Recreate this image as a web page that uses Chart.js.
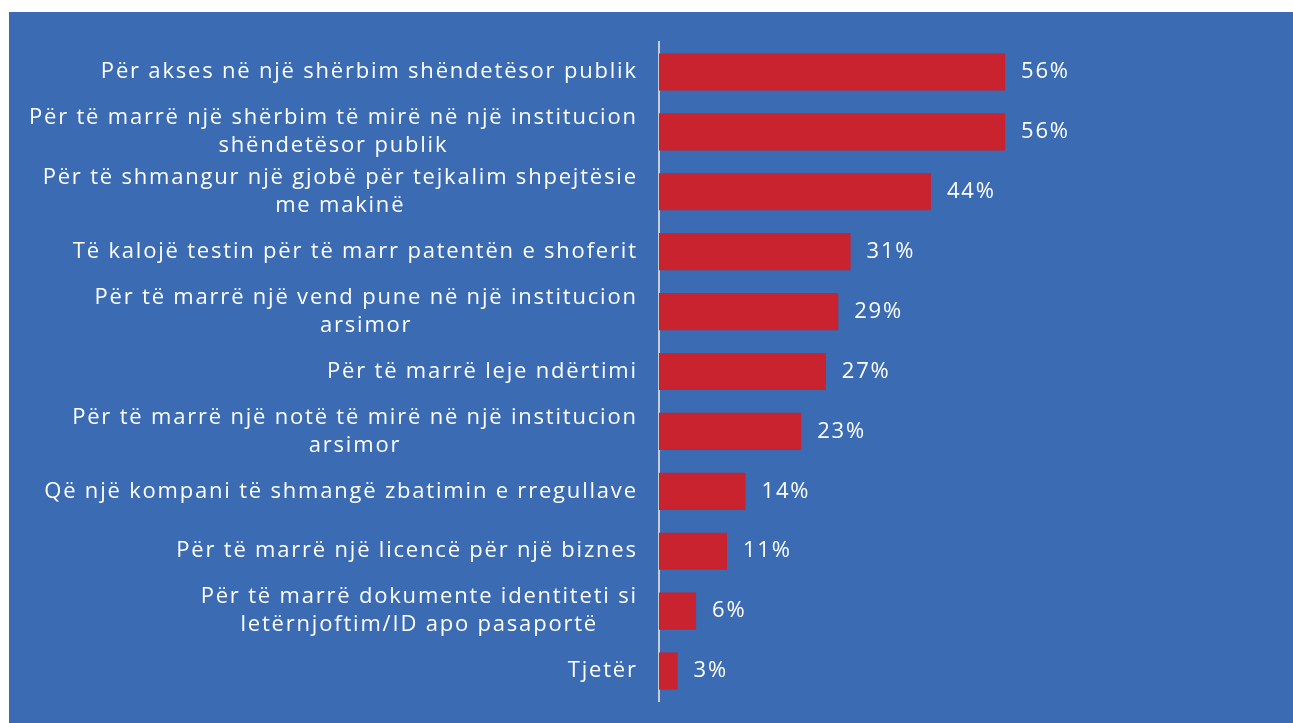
<!DOCTYPE html>
<html>
<head>
<meta charset="utf-8">
<script src="https://cdn.jsdelivr.net/npm/chart.js@4"></script>
<style>
    html, body { margin: 0; padding: 0; background: #ffffff; }
    #wrap { position: absolute; left: 9px; top: 12px; width: 1284px; height: 711px; background: #3a6bb3; }
    canvas { display: block; }
</style>
</head>
<body>
<div id="wrap"><canvas id="bribeChart" width="1284" height="711"></canvas></div>
<script>
    // kategoritë (rreshtat e grafikut)
    const categories = [
        'Për akses në një shërbim shëndetësor publik',
        ['Për të marrë një shërbim të mirë në një institucion', 'shëndetësor publik'],
        ['Për të shmangur një gjobë për tejkalim shpejtësie', 'me makinë'],
        'Të kalojë testin për të marr patentën e shoferit',
        ['Për të marrë një vend pune në një institucion', 'arsimor'],
        'Për të marrë leje ndërtimi',
        ['Për të marrë një notë të mirë në një institucion', 'arsimor'],
        'Që një kompani të shmangë zbatimin e rregullave',
        'Për të marrë një licencë për një biznes',
        ['Për të marrë dokumente identiteti si', 'letërnjoftim/ID apo pasaportë'],
        'Tjetër'
    ];
    const values = [56, 56, 44, 31, 29, 27, 23, 14, 11, 6, 3];

    const labelFont = '400 22px "Open Sans", sans-serif';
    const spacing = 1.8;

    // vizaton etiketat e kategorive (rreshtat e dytë të qendërzuar nën të parin)
    const categoryLabels = {
        id: 'categoryLabels',
        afterDraw(chart) {
            const ctx = chart.ctx;
            const yScale = chart.scales.y;
            const right = yScale.right - 23 + spacing;
            const lineH = 28;
            ctx.save();
            ctx.font = labelFont;
            ctx.letterSpacing = spacing + 'px';
            ctx.fillStyle = '#ffffff';
            ctx.textBaseline = 'middle';
            categories.forEach((lab, i) => {
                const y = yScale.getPixelForValue(i);
                const lines = Array.isArray(lab) ? lab : [lab];
                const widths = lines.map(l => ctx.measureText(l).width);
                const maxW = Math.max(...widths);
                const center = right - maxW / 2;
                const top = y - (lines.length - 1) * lineH / 2;
                lines.forEach((l, j) => {
                    ctx.textAlign = 'center';
                    ctx.fillText(l, center, top + j * lineH);
                });
            });
            ctx.restore();
        }
    };

    // vlerat në përqindje pranë shiritave
    const valueLabels = {
        id: 'valueLabels',
        afterDatasetsDraw(chart) {
            const ctx = chart.ctx;
            const meta = chart.getDatasetMeta(0);
            ctx.save();
            ctx.font = labelFont;
            ctx.letterSpacing = spacing + 'px';
            ctx.fillStyle = '#ffffff';
            ctx.textAlign = 'left';
            ctx.textBaseline = 'middle';
            meta.data.forEach((bar, i) => {
                ctx.fillText(values[i] + '%', bar.x + 16, bar.y);
            });
            ctx.restore();
        }
    };

    new Chart(document.getElementById('bribeChart').getContext('2d'), {
        type: 'bar',
        data: {
            labels: categories,
            datasets: [{
                data: values,
                backgroundColor: '#c8232f',
                borderWidth: 0,
                categoryPercentage: 1,
                barPercentage: 0.62
            }]
        },
        options: {
            indexAxis: 'y',
            responsive: false,
            animation: false,
            layout: { padding: { top: 30, right: 16, bottom: 22, left: 0 } },
            plugins: {
                legend: { display: false },
                tooltip: { enabled: false }
            },
            scales: {
                x: {
                    display: false,
                    min: 0,
                    max: 100
                },
                y: {
                    grid: { display: false },
                    border: { display: true, color: '#c9ccd2', width: 2 },
                    ticks: { display: false },
                    afterFit(scale) { scale.width = 650; }
                }
            }
        },
        plugins: [categoryLabels, valueLabels]
    });
</script>
</body>
</html>
